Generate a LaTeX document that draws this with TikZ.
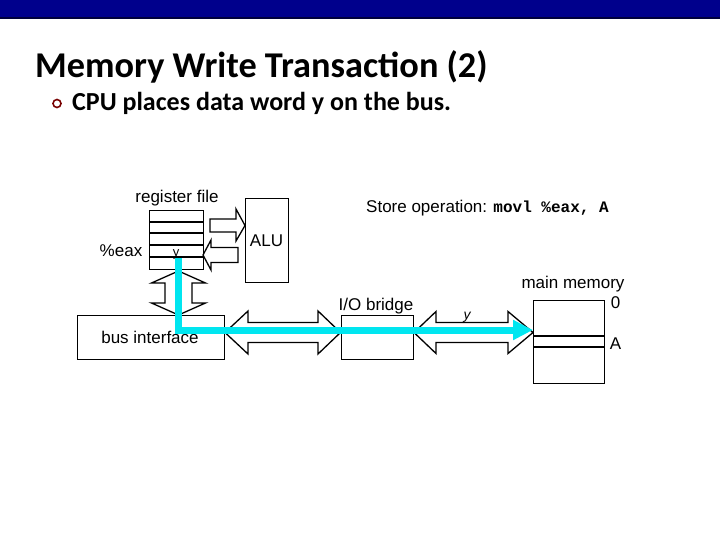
\documentclass[tikz,border=0pt]{standalone}
\usepackage{fontspec}
\setmainfont{Liberation Sans}
\newfontfamily\titlefont{Carlito}
\newfontfamily\codefont{Liberation Mono}
\usetikzlibrary{arrows.meta}
\definecolor{barblue}{RGB}{0,0,140}
\definecolor{barline}{RGB}{0,0,60}
\definecolor{busblue}{RGB}{0,230,240}
\definecolor{bulletred}{RGB}{120,0,0}
\tikzset{
  box/.style={draw=black, line width=1.3pt, fill=white, inner sep=0pt},
  fat/.style={draw=black, line width=1.3pt, fill=white, line join=miter},
  lbl/.style={font=\fontsize{17}{20}\selectfont, inner sep=0pt},
  datapath/.style={draw=busblue, line width=7pt, line join=miter,
    -{Triangle[length=20pt,width=19pt]}},
}
\begin{document}
\begin{tikzpicture}[x=1pt,y=-1pt]
\useasboundingbox (0,0) rectangle (720,540);
\fill[white] (0,0) rectangle (720,540);
% top bar
\fill[barblue] (0,0) rectangle (720,17.5);
\fill[barline] (0,17.5) rectangle (720,19);
% title
\node[anchor=base west, inner sep=0pt, font=\titlefont\bfseries\fontsize{36.3}{42}\selectfont] (title) at (35,77.5) {Memory Write Transaction (2)};
\draw[bulletred, line width=1.6pt] (57,103.5) circle (4);
\node[anchor=base west, inner sep=0pt, font=\titlefont\bfseries\fontsize{26}{30}\selectfont] (bullet) at (72,111) {CPU places data word y on the bus.};
% register file
\node[box, minimum width=54, minimum height=59, anchor=north west] (rf) at (149,210) {};
\foreach \yy in {222,233,245,257} \draw[line width=1.3pt] (149,\yy) -- (203,\yy);
\node[lbl, anchor=base] (rflabel) at (177,203) {register file};
\node[lbl, anchor=base] (eax) at (121,256) {\%eax};
\node[lbl, anchor=base, font=\fontsize{13}{15}\selectfont] (yreg) at (176,256) {y};
% ALU
\node[box, minimum width=43, minimum height=84, anchor=north west] (alu) at (245,198) {};
\node[lbl] (alulabel) at (266.5,241) {ALU};
% store operation
\node[lbl, anchor=base west] (store) at (366,212) {Store operation: {\codefont\bfseries\fontsize{16}{20}\selectfont movl \%eax, A}};
% arrow reg -> ALU
\draw[fat] (210,219) -- (236,219) -- (236,209) -- (245,225.5) -- (236,241) -- (236,232) -- (210,232) -- cycle;
% arrow ALU -> reg
\draw[fat] (238,247.5) -- (211,247.5) -- (211,240) -- (203,255) -- (211,270) -- (211,262.5) -- (238,262.5) -- cycle;
% bus interface
\node[box, minimum width=147, minimum height=44, anchor=north west] (bi) at (77,315) {};
\node[lbl] (bilabel) at (150,337) {bus interface};
% vertical double arrow
\draw[fat] (178.5,271) -- (205.5,283) -- (192,283) -- (192,303) -- (205.5,303) -- (178.5,315) -- (151.5,303) -- (165,303) -- (165,283) -- (151.5,283) -- cycle;
% I/O bridge
\node[box, minimum width=72, minimum height=44, anchor=north west] (iob) at (341,315) {};
\node[lbl, anchor=base] (ioblabel) at (376,310) {I/O bridge};
% double arrow bus interface <-> bridge
\draw[fat] (225,332.5) -- (248,311) -- (248,322.5) -- (318,322.5) -- (318,311) -- (340.5,332.5) -- (318,354) -- (318,342.5) -- (248,342.5) -- (248,354) -- cycle;
% double arrow bridge <-> memory
\draw[fat] (414,332.5) -- (436,311.5) -- (436,322.5) -- (508,322.5) -- (508,311.5) -- (533,332.5) -- (508,353.5) -- (508,342.5) -- (436,342.5) -- (436,353.5) -- cycle;
\node[lbl, anchor=base, font=\itshape\fontsize{14}{16}\selectfont] (ybus) at (467,319) {y};
% main memory
\node[box, minimum width=71, minimum height=83, anchor=north west] (mem) at (533,300) {};
\draw[line width=1.3pt] (533,336) -- (604,336);
\draw[line width=1.3pt] (533,347) -- (604,347);
\node[lbl, anchor=base] (memlabel) at (573,288) {main memory};
\node[lbl, anchor=base] (zero) at (615.5,308.5) {0};
\node[lbl, anchor=base] (addrA) at (615.5,349.5) {A};
% data path
\coordinate (src) at (178.5,258);
\coordinate (corner) at (178.5,330);
\coordinate (dst) at (mem.west |- corner);
\draw[datapath] (src) -- (corner) -- (dst);
\end{tikzpicture}
\end{document}
